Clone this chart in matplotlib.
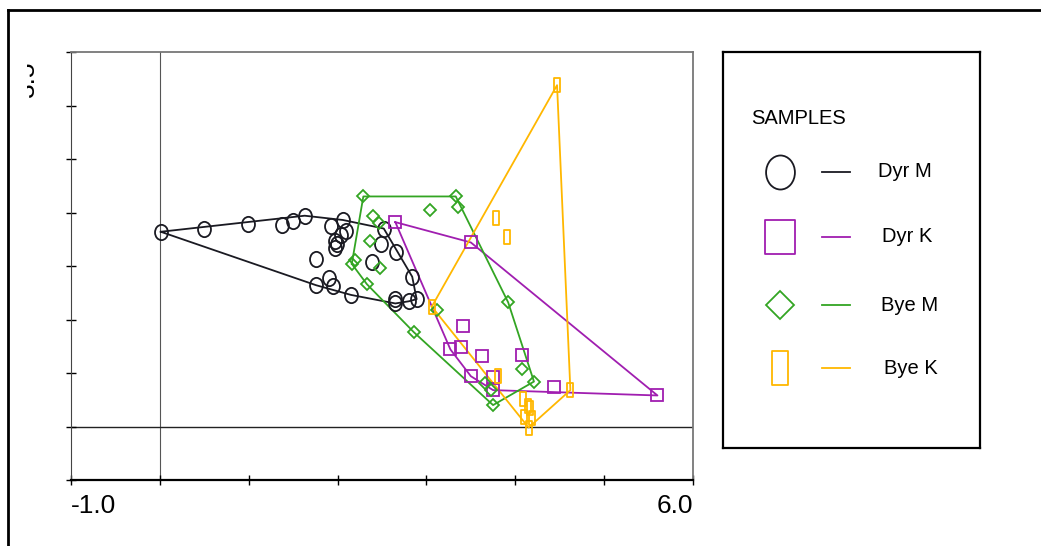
import numpy as np
import matplotlib
matplotlib.use("Agg")
import matplotlib.pyplot as plt
from matplotlib.path import Path
from matplotlib.lines import Line2D
from matplotlib.transforms import Bbox, TransformedBbox

plt.rcParams["font.family"] = ["Liberation Sans", "DejaVu Sans"]

## Data ---------------------------------------------

dyr_m_x = [0.01, 0.50, 0.99, 1.37, 1.50, 1.63, 1.93, 2.06, 2.10, 2.04, 1.97, 1.99, 1.97, 1.76,
           1.90, 1.76, 1.95, 2.15, 2.49, 2.52, 2.39, 2.66, 2.84, 2.65, 2.65, 2.80, 2.89]
dyr_m_y = [1.82, 1.85, 1.89, 1.88, 1.92, 1.97, 1.87, 1.93, 1.83, 1.79, 1.73, 1.71, 1.67, 1.57,
           1.39, 1.32, 1.31, 1.23, 1.71, 1.85, 1.54, 1.63, 1.40, 1.19, 1.15, 1.17, 1.19]

dyr_k_x = [2.65, 3.50, 5.60, 3.41, 3.27, 3.39, 3.63, 4.07, 3.50, 3.75, 3.75, 4.44]
dyr_k_y = [1.91, 1.72, 0.29, 0.94, 0.72, 0.74, 0.66, 0.67, 0.47, 0.46, 0.34, 0.37]

bye_m_x = [2.29, 3.33, 3.35, 3.04, 2.40, 2.47, 2.37, 2.48, 2.16, 2.20, 2.33, 3.12, 2.86,
           3.92, 4.07, 4.21, 3.66, 3.73, 3.75]
bye_m_y = [2.15, 2.15, 2.05, 2.02, 1.97, 1.90, 1.73, 1.48, 1.52, 1.56, 1.33, 1.09, 0.88,
           1.16, 0.54, 0.42, 0.41, 0.34, 0.20]

bye_k_x = [4.47, 3.78, 3.91, 3.06, 4.62, 3.80, 4.09, 4.14, 4.16, 4.10, 4.19, 4.15]
bye_k_y = [3.19, 1.95, 1.77, 1.12, 0.34, 0.47, 0.26, 0.19, 0.17, 0.09, 0.08, -0.01]

labels = ["Dyr M", "Dyr K", "Bye M", "Bye K"]
colors = ["#1a1a22", "#a01eb0", "#33a523", "#ffb700"]


def hull(xs, ys):
    # monotone chain convex hull, returned closed
    pts = sorted(set(zip(xs, ys)))

    def cross(o, a, b):
        return (a[0] - o[0]) * (b[1] - o[1]) - (a[1] - o[1]) * (b[0] - o[0])

    lower, upper = [], []
    for p in pts:
        while len(lower) >= 2 and cross(lower[-2], lower[-1], p) <= 0:
            lower.pop()
        lower.append(p)
    for p in reversed(pts):
        while len(upper) >= 2 and cross(upper[-2], upper[-1], p) <= 0:
            upper.pop()
        upper.append(p)
    h = lower[:-1] + upper[:-1]
    h.append(h[0])
    return [p[0] for p in h], [p[1] for p in h]


def box_marker(w, h):
    return Path([(-w, -h), (w, -h), (w, h), (-w, h), (-w, -h)],
                [Path.MOVETO, Path.LINETO, Path.LINETO, Path.LINETO, Path.CLOSEPOLY])


circle = Path.unit_circle()
ellipse = Path(circle.vertices * np.array([1.0, 1.18]), circle.codes)

markers = [ellipse, "s", "D", box_marker(0.45, 1.0)]
sizes = [11, 8.5, 6.2, 10.5]
leg_markers = [ellipse, box_marker(0.86, 1.0), "D", box_marker(0.47, 1.0)]
leg_sizes = [24.5, 25, 14.5, 24.5]

series = [(dyr_m_x, dyr_m_y), (dyr_k_x, dyr_k_y), (bye_m_x, bye_m_y), (bye_k_x, bye_k_y)]

## Figure -------------------------------------------

W, H = 1041, 546
fig = plt.figure(figsize=(W / 100, H / 100), dpi=100)

# outer frame (left + top only)
fig.add_artist(Line2D([7.5 / W, 7.5 / W], [0, 1 - 10 / H], transform=fig.transFigure,
                      color="black", lw=2))
fig.add_artist(Line2D([7.5 / W, 1], [1 - 10 / H, 1 - 10 / H], transform=fig.transFigure,
                      color="black", lw=2))

ax = fig.add_axes([71 / W, 66 / H, 622 / W, 428 / H])
ax.set_xlim(-1, 6)
ax.set_ylim(-0.5, 3.5)

ax.axvline(0, color="#555555", lw=0.8, zorder=1)
ax.axhline(0, color="#222222", lw=1.0, zorder=1)

for (xs, ys), m, s, c in zip(series, markers, sizes, colors):
    hx, hy = hull(xs, ys)
    ax.plot(hx, hy, color=c, lw=1.3, zorder=2)
    ax.plot(xs, ys, ls="none", marker=m, ms=s, mfc="none", mec=c, mew=1.3, zorder=3)

ax.set_xticks(np.arange(-1, 7, 1))
ax.set_yticks(np.arange(-0.5, 3.51, 0.5))
ax.tick_params(direction="inout", length=7, width=1, labelbottom=False, labelleft=False)
ax.spines["bottom"].set_linewidth(1.6)
ax.spines["bottom"].set_color("black")
ax.spines["left"].set_color("#444444")
ax.spines["top"].set_color("#777777")
ax.spines["right"].set_color("#777777")
ax.spines["top"].set_linewidth(1.3)
ax.spines["right"].set_linewidth(1.3)

ax.text(-1, -0.63, "-1.0", ha="left", va="top", fontsize=19)
ax.text(6, -0.63, "6.0", ha="right", va="top", fontsize=19)

# clipped y label at the top
t = fig.text(39 / W, 1 - 79 / H, "3.5", rotation=90, ha="right", va="center", fontsize=19)
t.set_clip_box(TransformedBbox(Bbox([[27 / W, 0], [1, 1]]), fig.transFigure))
t.set_clip_on(True)

## Legend box ---------------------------------------

lax = fig.add_axes([723 / W, (H - 448) / H, 257 / W, 396 / H])
lax.set_xlim(0, 1)
lax.set_ylim(0, 1)
lax.set_xticks([])
lax.set_yticks([])
for sp in lax.spines.values():
    sp.set_linewidth(1.6)
    sp.set_color("black")

lax.text(0.109, 0.833, "SAMPLES", ha="left", va="center", fontsize=14.5)
rows = [0.697, 0.533, 0.361, 0.202]
label_x = [0.603, 0.618, 0.614, 0.625]
for r, lx, lab, m, s, c in zip(rows, label_x, labels, leg_markers, leg_sizes, colors):
    lax.plot([0.222], [r], ls="none", marker=m, ms=s, mfc="none", mec=c, mew=1.3)
    lax.plot([0.385, 0.494], [r, r], color=c, lw=1.3)
    lax.text(lx, r, lab, ha="left", va="center", fontsize=14.5)

fig.savefig("out.png", dpi=100)
